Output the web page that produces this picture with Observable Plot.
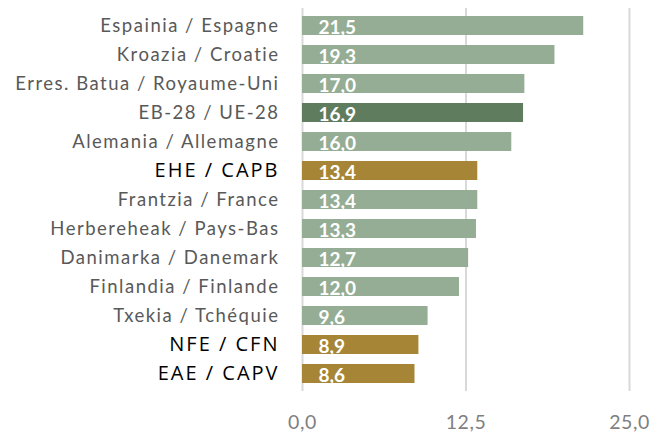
<!DOCTYPE html>
<html><head><meta charset="utf-8">
<script src="https://cdn.jsdelivr.net/npm/d3@7"></script>
<script src="https://cdn.jsdelivr.net/npm/@observablehq/plot@0.6"></script>
<style>body{margin:0;background:#fff;} svg{display:block;}</style>
</head><body><div id="chart"></div>
<script>
const categories = ["Espainia / Espagne","Kroazia / Croatie","Erres. Batua / Royaume-Uni","EB-28 / UE-28","Alemania / Allemagne","EHE / CAPB","Frantzia / France","Herbereheak / Pays-Bas","Danimarka / Danemark","Finlandia / Finlande","Txekia / Tchéquie","NFE / CFN","EAE / CAPV"];
const values = [21.5,19.3,17.0,16.9,16.0,13.4,13.4,13.3,12.7,12.0,9.6,8.9,8.6];
const groups = ["other","other","other","eu","other","local","other","other","other","other","other","local","local"];
const xTicks = [0,12.5,25];
const colors = {other:"#94ad94", eu:"#5f7c5f", local:"#a68636"};
const data = categories.map((c,i)=>({cat:c, v:values[i], g:groups[i]}));
const fmt = d => d.toFixed(1).replace(".", ",");

const chart = Plot.plot({
  width: 655, height: 433,
  marginLeft: 302, marginRight: 26, marginTop: 8, marginBottom: 42,
  style: {fontFamily: "Lato", background: "#fff"},
  x: {domain: [0,25], ticks: xTicks, tickFormat: fmt, tickSize: 0, tickPadding: 24, label: null},
  y: {domain: categories, paddingInner: 0.36, paddingOuter: 0.18, axis: null},
  marks: [
    Plot.ruleX(xTicks, {stroke: "#d9d9d9", strokeWidth: 2}),
    Plot.barX(data, {y: "cat", x: "v", fill: d => colors[d.g]}),
    Plot.text(data, {y: "cat", x: 0, text: d => fmt(d.v), textAnchor: "start", dx: 16, dy: 1.5, fill: "#fff", fontWeight: "bold", fontSize: 19}),
    Plot.text(data.filter(d => d.g !== "local"), {y: "cat", x: 0, text: "cat", textAnchor: "end", dx: -23, fill: "#595959", fontSize: 18.5}),
    Plot.text(data.filter(d => d.g === "local"), {y: "cat", x: 0, text: "cat", textAnchor: "end", dx: -23, fill: "#000", fontSize: 20, fontFamily: "Open Sans"})
  ]
});
chart.querySelectorAll("g[aria-label='text'] text").forEach(t => {
  const txt = t.textContent;
  if (txt.includes("/")) {
    const local = ["EHE / CAPB","NFE / CFN","EAE / CAPV"].includes(txt);
    t.setAttribute("letter-spacing", local ? "2" : "1.5");
  }
});
chart.querySelectorAll("g[aria-label='x-axis tick label']").forEach(g => { g.setAttribute("font-size", "19.5"); g.setAttribute("fill", "#7f7f7f"); g.setAttribute("letter-spacing", "0.6"); });
document.getElementById("chart").appendChild(chart);
</script></body></html>
